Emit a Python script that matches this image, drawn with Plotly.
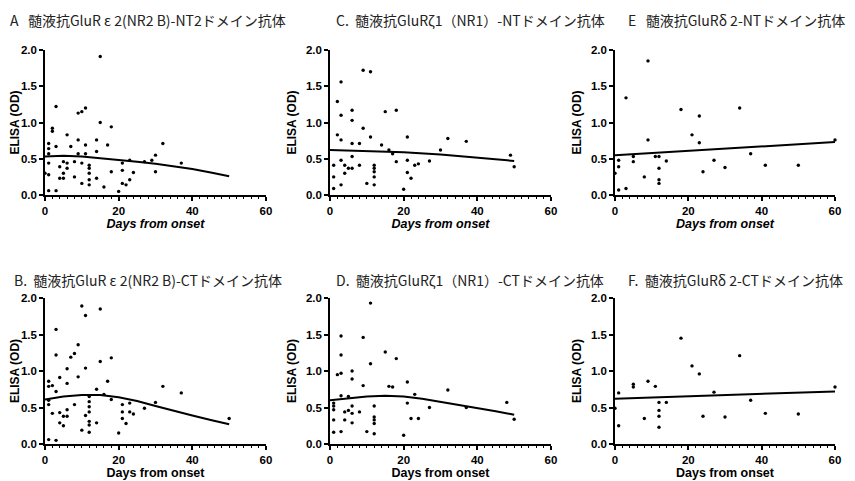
import plotly.graph_objects as go

# ---------------- data ----------------
A_x = [1, 1, 1, 1, 1, 1, 2, 3, 3, 3, 4, 4, 5, 5, 5, 6, 6, 6, 7, 8, 8, 9, 9, 9, 10, 10, 10, 11, 11, 11,
       12, 12, 12, 12, 12, 14, 14, 14, 15, 15, 16, 17, 18, 18, 20, 21, 21, 21, 22, 23, 23, 24, 27, 29,
       30, 30, 32, 37, 2, 0]
A_y = [0.71, 0.64, 0.57, 0.44, 0.28, 0.06, 0.92, 1.22, 0.67, 0.06, 0.39, 0.23, 0.46, 0.30, 0.23, 0.83,
       0.44, 0.37, 0.67, 0.46, 0.25, 1.13, 0.76, 0.57, 1.15, 0.16, 0.44, 1.20, 0.69, 0.57, 0.41, 0.37,
       0.30, 0.21, 0.14, 0.76, 0.60, 0.23, 1.91, 1.00, 0.11, 0.69, 0.94, 0.32, 0.05, 0.44, 0.34, 0.16,
       0.14, 0.21, 0.48, 0.31, 0.46, 0.48, 0.55, 0.32, 0.71, 0.44, 0.88, 0.30]
A_fit_x = [0, 5, 10, 15, 20, 25, 30, 35, 40, 45, 50]
A_fit_y = [0.53, 0.54, 0.53, 0.51, 0.49, 0.46, 0.43, 0.40, 0.36, 0.31, 0.26]

C_x = [1, 1, 1, 2, 2, 3, 3, 3, 3, 3, 4, 4, 5, 6, 6, 6, 6, 6, 8, 8, 9, 9, 10, 11, 11, 12, 12, 12, 12,
       12, 14, 15, 16, 17, 18, 18, 20, 21, 21, 21, 22, 23, 24, 27, 30, 32, 37, 49, 50]
C_y = [0.41, 0.25, 0.09, 1.29, 0.83, 1.56, 1.10, 0.76, 0.48, 0.14, 0.41, 0.30, 0.37, 1.17, 1.03, 0.71,
       0.53, 0.37, 0.71, 0.41, 1.72, 0.92, 0.16, 1.70, 0.80, 0.41, 0.37, 0.32, 0.25, 0.14, 0.69, 1.15,
       0.62, 0.57, 1.17, 0.46, 0.08, 0.80, 0.48, 0.31, 0.23, 0.41, 0.43, 0.47, 0.62, 0.78, 0.74, 0.55,
       0.39]
C_fit_x = [0, 10, 20, 30, 40, 50]
C_fit_y = [0.62, 0.61, 0.59, 0.56, 0.52, 0.47]

E_x = [0, 1, 1, 1, 3, 3, 5, 5, 8, 9, 9, 11, 12, 12, 12, 12, 14, 18, 21, 23, 23, 24, 27, 30, 34, 37,
       41, 50, 60]
E_y = [0.30, 0.39, 0.48, 0.07, 1.34, 0.09, 0.53, 0.46, 0.25, 1.85, 0.76, 0.53, 0.53, 0.37, 0.21, 0.16,
       0.47, 1.18, 0.83, 1.09, 0.72, 0.32, 0.48, 0.38, 1.20, 0.57, 0.41, 0.41, 0.76]
E_fit_x = [0, 60]
E_fit_y = [0.55, 0.73]

B_x = [1, 1, 1, 1, 1, 2, 2, 3, 3, 3, 3, 4, 4, 4, 5, 5, 6, 6, 6, 6, 7, 8, 8, 9, 9, 10, 10, 11, 11, 11,
       12, 12, 12, 12, 12, 12, 12, 14, 14, 15, 15, 16, 17, 18, 18, 20, 21, 21, 21, 22, 23, 23, 24, 27,
       30, 32, 37, 50]
B_y = [0.86, 0.79, 0.60, 0.54, 0.06, 0.80, 0.42, 1.57, 1.22, 0.72, 0.05, 0.91, 0.43, 0.29, 0.38, 0.25,
       0.38, 1.03, 0.83, 0.47, 1.19, 1.24, 0.54, 1.36, 0.92, 1.89, 0.19, 1.76, 1.04, 0.39, 0.58, 0.51,
       0.44, 0.31, 0.26, 0.16, 0.65, 0.75, 0.29, 1.85, 1.13, 0.68, 0.86, 1.18, 0.61, 0.15, 0.54, 0.44,
       0.35, 0.28, 0.56, 0.44, 0.41, 0.49, 0.57, 0.79, 0.70, 0.35]
B_fit_x = [0, 5, 10, 15, 20, 25, 30, 35, 40, 45, 50]
B_fit_y = [0.61, 0.65, 0.67, 0.67, 0.64, 0.59, 0.52, 0.45, 0.39, 0.33, 0.27]

D_x = [1, 1, 1, 1, 1, 2, 3, 3, 3, 3, 3, 4, 4, 5, 5, 6, 6, 6, 6, 6, 8, 9, 9, 10, 11, 11, 12, 12, 12,
       12, 12, 15, 16, 17, 18, 20, 21, 21, 22, 23, 24, 27, 32, 37, 48, 50]
D_y = [0.56, 0.47, 0.33, 0.16, 0.52, 0.95, 1.48, 1.22, 0.97, 0.66, 0.17, 0.33, 0.44, 0.46, 0.65, 1.00,
       0.89, 0.52, 0.42, 0.29, 0.44, 1.46, 0.80, 0.17, 1.93, 1.10, 0.52, 0.37, 0.33, 0.28, 0.14, 1.26,
       0.79, 0.78, 1.17, 0.12, 0.85, 0.56, 0.35, 0.68, 0.35, 0.50, 0.74, 0.50, 0.57, 0.34]
D_fit_x = [0, 5, 10, 15, 20, 25, 30, 35, 40, 45, 50]
D_fit_y = [0.60, 0.63, 0.65, 0.66, 0.65, 0.62, 0.58, 0.54, 0.50, 0.45, 0.40]

F_x = [0, 1, 1, 5, 5, 8, 9, 11, 12, 12, 12, 12, 14, 18, 21, 23, 24, 27, 30, 34, 37, 41, 50, 60]
F_y = [0.49, 0.70, 0.25, 0.82, 0.78, 0.35, 0.86, 0.79, 0.57, 0.46, 0.38, 0.23, 0.57, 1.45, 1.07, 0.96,
       0.38, 0.71, 0.37, 1.21, 0.60, 0.42, 0.41, 0.78]
F_fit_x = [0, 60]
F_fit_y = [0.62, 0.72]

titles = {
    "A": "A   髄液抗GluR ε 2(NR2 B)-NT2ドメイン抗体",
    "C": "C.  髄液抗GluRζ1（NR1）-NTドメイン抗体",
    "E": "E   髄液抗GluRδ 2-NTドメイン抗体",
    "B": "B.  髄液抗GluR ε 2(NR2 B)-CTドメイン抗体",
    "D": "D.  髄液抗GluRζ1（NR1）-CTドメイン抗体",
    "F": "F.  髄液抗GluRδ 2-CTドメイン抗体",
}
y_ticks = [0.0, 0.5, 1.0, 1.5, 2.0]
y_ticklabels = ["0.0", "0.5", "1.0", "1.5", "2.0"]
x_ticks = [0, 20, 40, 60]
x_title = "Days from onset"
y_title = "ELISA (OD)"

# ---------------- layout ----------------
# the page places the figure 8 px in from the window's top-left corner
OFF = 8
W, H = 855 - OFF, 481 - OFF
panels = [
    # key, x data, y data, fit x, fit y, x px range, y px (bottom, top), title px, italic xtitle
    ("A", A_x, A_y, A_fit_x, A_fit_y, (45, 266), (195, 50), (8, 20), True),
    ("C", C_x, C_y, C_fit_x, C_fit_y, (330, 551), (195, 50), (334, 20), True),
    ("E", E_x, E_y, E_fit_x, E_fit_y, (615, 835), (195, 50), (626, 20), True),
    ("B", B_x, B_y, B_fit_x, B_fit_y, (45, 266), (444, 298), (12, 280), False),
    ("D", D_x, D_y, D_fit_x, D_fit_y, (330, 551), (444, 298), (334, 280), False),
    ("F", F_x, F_y, F_fit_x, F_fit_y, (615, 835), (444, 298), (626, 280), False),
]


def px(v):
    return v - OFF


fig = go.Figure()
font_fam = "Liberation Sans, Arial, sans-serif"
annotations = []
for i, (key, xs, ys, fx, fy, xpx, ypx, tpx, ital) in enumerate(panels):
    n = "" if i == 0 else str(i + 1)
    xa, ya = "x" + n, "y" + n
    fig.add_trace(go.Scatter(x=xs, y=ys, mode="markers", xaxis=xa, yaxis=ya,
                             marker=dict(color="black", size=3.4), cliponaxis=False,
                             showlegend=False))
    fig.add_trace(go.Scatter(x=fx, y=fy, mode="lines", xaxis=xa, yaxis=ya,
                             line=dict(color="black", width=2), cliponaxis=False,
                             showlegend=False))
    common = dict(showgrid=False, zeroline=False, showline=True, linecolor="black",
                  linewidth=1.6, ticks="outside", ticklen=4, tickwidth=1.6, tickcolor="black",
                  automargin=False,
                  tickfont=dict(family=font_fam, size=11.5, color="black", weight="bold"))
    fig.layout["xaxis" + n] = dict(
        common, domain=[px(xpx[0]) / W, px(xpx[1]) / W], range=[0, 60], anchor=ya,
        tickvals=x_ticks, ticktext=[str(t) for t in x_ticks],
        minor=dict(ticks="outside", ticklen=2, tickcolor="black", dtick=2, tickwidth=1),
        title=dict(text=x_title, standoff=2,
                   font=dict(family=font_fam, size=12.5, color="black", weight="bold",
                             style="italic" if ital else "normal")))
    fig.layout["yaxis" + n] = dict(
        common, domain=[1 - px(ypx[0]) / H, 1 - px(ypx[1]) / H], range=[0, 2.0], anchor=xa,
        tickvals=y_ticks, ticktext=y_ticklabels,
        title=dict(text=y_title, standoff=7,
                   font=dict(family=font_fam, size=12, color="black", weight="bold")))
    annotations.append(dict(text=titles[key], x=px(tpx[0]) / W, y=1 - px(tpx[1]) / H,
                            xref="paper", yref="paper", xanchor="left", yanchor="middle",
                            showarrow=False,
                            font=dict(family="Noto Sans CJK JP, sans-serif", size=14,
                                      color="#222")))

fig.update_layout(width=W, height=H, margin=dict(l=0, r=0, t=0, b=0),
                  paper_bgcolor="white", plot_bgcolor="white", annotations=annotations)
fig.write_html("out.html")
